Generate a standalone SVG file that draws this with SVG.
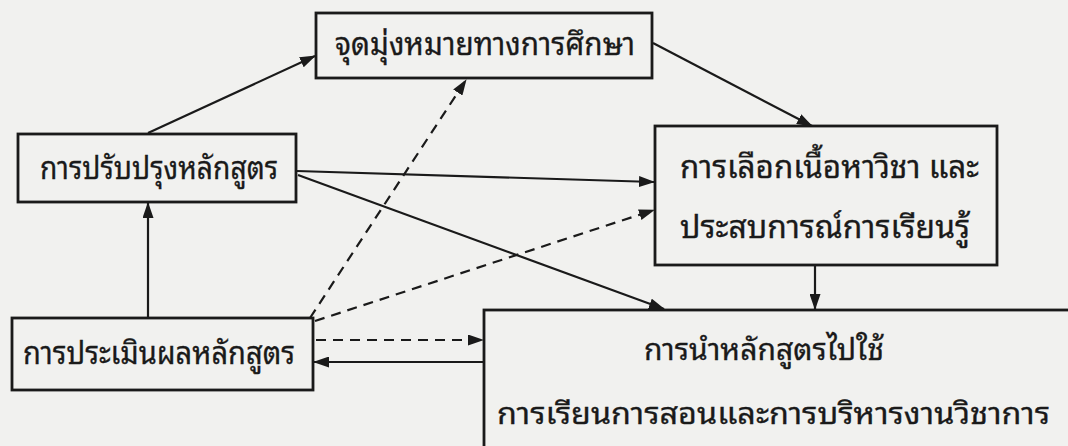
<svg xmlns="http://www.w3.org/2000/svg" width="1068" height="446" viewBox="0 0 1068 446">
<style>
.box{fill:none;stroke:#1a1a1a;stroke-width:2.8}
.t{font-family:"Noto Sans Thai Looped","Noto Serif Thai","Kinnari","Norasi","Garuda","Loma","Waree","Noto Sans Thai","DejaVu Sans",sans-serif;fill:#1a1a1a;stroke:#1a1a1a;stroke-width:0.3}
.c{stroke:#1a1a1a;stroke-width:2.2;fill:none}
.d{stroke-dasharray:10 7}
</style>
<defs>
<marker id="ah" viewBox="0 0 16 11" refX="15" refY="5.5" markerWidth="16" markerHeight="11" markerUnits="userSpaceOnUse" orient="auto">
<path d="M0,0 L16,5.5 L0,11 z" fill="#1a1a1a"/>
</marker>
</defs>
<rect width="1068" height="446" fill="#f1f1ef"/>
<g id="goal">
<rect class="box" x="316" y="13" width="336" height="65"/>
<text class="t" x="335" y="55" font-size="31" textLength="300" lengthAdjust="spacingAndGlyphs">จุดมุ่งหมายทางการศึกษา</text>
</g>
<g id="improve">
<rect class="box" x="18" y="134" width="278" height="68"/>
<text class="t" x="40" y="179" font-size="32" textLength="238" lengthAdjust="spacingAndGlyphs">การปรับปรุงหลักสูตร</text>
</g>
<g id="select">
<rect class="box" x="655" y="126" width="342" height="139"/>
<text class="t" x="680" y="178" font-size="31" textLength="299" lengthAdjust="spacingAndGlyphs">การเลือกเนื้อหาวิชา และ</text>
<text class="t" x="680" y="238" font-size="31" textLength="290" lengthAdjust="spacingAndGlyphs">ประสบการณ์การเรียนรู้</text>
</g>
<g id="evaluate">
<rect class="box" x="12" y="318" width="301" height="72"/>
<text class="t" x="23" y="364" font-size="31" textLength="272" lengthAdjust="spacingAndGlyphs">การประเมินผลหลักสูตร</text>
</g>
<g id="implement">
<rect class="box" x="484" y="310" width="600" height="150"/>
<text class="t" x="644" y="360" font-size="30" textLength="240" lengthAdjust="spacingAndGlyphs">การนำหลักสูตรไปใช้</text>
<text class="t" x="497" y="424" font-size="30" textLength="553" lengthAdjust="spacingAndGlyphs">การเรียนการสอนและการบริหารงานวิชาการ</text>
</g>
<g id="connectors">
<line class="c" x1="148" y1="133" x2="315" y2="56" marker-end="url(#ah)"/>
<line class="c" x1="653" y1="43" x2="812" y2="126" marker-end="url(#ah)"/>
<line class="c" x1="297" y1="171" x2="654" y2="182" marker-end="url(#ah)"/>
<line class="c" x1="298" y1="175" x2="664" y2="309" marker-end="url(#ah)"/>
<line class="c d" x1="310" y1="318" x2="466" y2="80" marker-end="url(#ah)"/>
<line class="c d" x1="315" y1="321" x2="654" y2="210" marker-end="url(#ah)"/>
<line class="c" x1="148" y1="318" x2="148" y2="203" marker-end="url(#ah)"/>
<line class="c" x1="815" y1="266" x2="815" y2="309" marker-end="url(#ah)"/>
<line class="c d" x1="316" y1="340" x2="483" y2="340" marker-end="url(#ah)"/>
<line class="c" x1="484" y1="362" x2="314" y2="362" marker-end="url(#ah)"/>
</g>
</svg>
